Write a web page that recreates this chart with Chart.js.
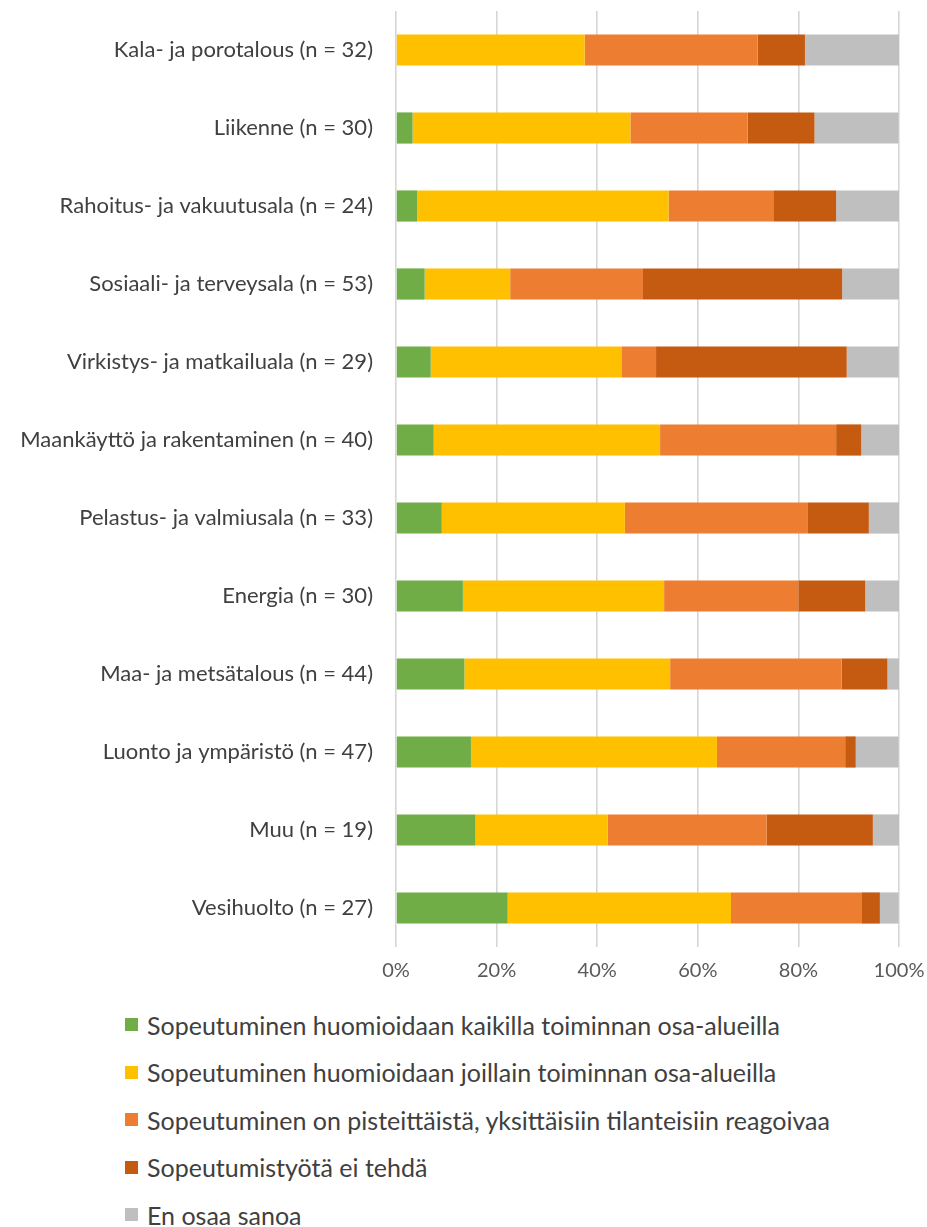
<!DOCTYPE html>
<html>
<head>
<meta charset="utf-8">
<script src="https://cdn.jsdelivr.net/npm/chart.js@4.4.1/dist/chart.umd.min.js"></script>
<style>
  html, body { margin: 0; background: #fff; overflow: hidden; }
  #wrap { position: relative; width: 927px; height: 1227px; overflow: hidden; }
  #chartBox { position: absolute; left: 0; top: 0; width: 927px; height: 990px; }
  #legend { position: absolute; left: 125px; top: 1001px; font-family: Lato, 'Noto Sans', sans-serif; font-size: 25px; color: #404040; }
  #legend .row { height: 47.5px; display: flex; align-items: center; white-space: nowrap; }
  #legend .box { width: 13px; height: 13px; margin-right: 9px; flex: none; }
</style>
</head>
<body>
<div id="wrap">
  <div id="chartBox"><canvas id="myChart"></canvas></div>
  <div id="legend"></div>
</div>
<script>
const categories = [
  'Kala- ja porotalous (n = 32)',
  'Liikenne (n = 30)',
  'Rahoitus- ja vakuutusala (n = 24)',
  'Sosiaali- ja terveysala (n = 53)',
  'Virkistys- ja matkailuala (n = 29)',
  'Maankäyttö ja rakentaminen (n = 40)',
  'Pelastus- ja valmiusala (n = 33)',
  'Energia (n = 30)',
  'Maa- ja metsätalous (n = 44)',
  'Luonto ja ympäristö (n = 47)',
  'Muu (n = 19)',
  'Vesihuolto (n = 27)'
];

const seriesNames = [
  'Sopeutuminen huomioidaan kaikilla toiminnan osa-alueilla',
  'Sopeutuminen huomioidaan joillain toiminnan osa-alueilla',
  'Sopeutuminen on pisteittäistä, yksittäisiin tilanteisiin reagoivaa',
  'Sopeutumistyötä ei tehdä',
  'En osaa sanoa'
];

// percent of respondents per sector
const kaikilla    = [0, 3.3, 4.2, 5.7, 6.9, 7.5, 9.1, 13.3, 13.6, 14.9, 15.8, 22.2];
const joillain    = [37.5, 43.3, 50.0, 17.0, 37.9, 45.0, 36.4, 40.0, 40.9, 48.9, 26.3, 44.4];
const pisteittain = [34.4, 23.3, 20.8, 26.4, 6.9, 35.0, 36.4, 26.7, 34.1, 25.5, 31.6, 25.9];
const eiTehda     = [9.4, 13.3, 12.5, 39.6, 37.9, 5.0, 12.1, 13.3, 9.1, 2.1, 21.1, 3.7];
const enOsaa      = [18.8, 16.7, 12.5, 11.3, 10.3, 7.5, 6.1, 6.7, 2.3, 8.5, 5.3, 3.7];

const xTicks = [0, 20, 40, 60, 80, 100];

const colors = ['#70AD47', '#FFC000', '#ED7D31', '#C55A11', '#BFBFBF'];
const values = [kaikilla, joillain, pisteittain, eiTehda, enOsaa];

const datasets = [];
for (let i = 0; i < seriesNames.length; i++) {
  datasets.push({
    label: seriesNames[i],
    data: values[i],
    backgroundColor: colors[i],
    borderWidth: 0,
    categoryPercentage: 1,
    barPercentage: 0.4
  });
}

const ctx = document.getElementById('myChart');

const myChart = new Chart(ctx, {
  type: 'bar',
  data: {
    labels: categories,
    datasets: datasets
  },
  options: {
    indexAxis: 'y',
    responsive: true,
    maintainAspectRatio: false,
    animation: false,
    layout: {
      padding: { top: 11, right: 28, bottom: 0, left: 0 }
    },
    scales: {
      x: {
        stacked: true,
        min: 0,
        max: 100,
        afterBuildTicks: function (scale) {
          scale.ticks = xTicks.map(v => ({ value: v }));
        },
        afterFit: function (scale) {
          scale.height = 43;
          scale.paddingLeft = 0;
          scale.paddingRight = 0;
        },
        grid: {
          color: '#D6D6D6',
          lineWidth: 1.6,
          drawTicks: false
        },
        border: { display: false },
        ticks: {
          padding: 12,
          color: '#595959',
          font: { family: 'Lato', size: 20 },
          callback: function (v) { return v + '%'; }
        }
      },
      y: {
        stacked: true,
        afterFit: function (scale) {
          scale.width = 396;
          scale.paddingTop = 0;
          scale.paddingBottom = 0;
        },
        grid: { display: false, drawTicks: false },
        border: { display: false },
        ticks: {
          padding: 23,
          color: '#404040',
          font: { family: 'Lato', size: 22 }
        }
      }
    },
    plugins: {
      legend: { display: false },
      tooltip: { enabled: false }
    }
  }
});

// html legend from the datasets
const legendEl = document.getElementById('legend');
myChart.data.datasets.forEach(function (ds) {
  const row = document.createElement('div');
  row.className = 'row';
  const box = document.createElement('span');
  box.className = 'box';
  box.style.background = ds.backgroundColor;
  const txt = document.createElement('span');
  txt.textContent = ds.label;
  row.appendChild(box);
  row.appendChild(txt);
  legendEl.appendChild(row);
});
</script>
</body>
</html>
